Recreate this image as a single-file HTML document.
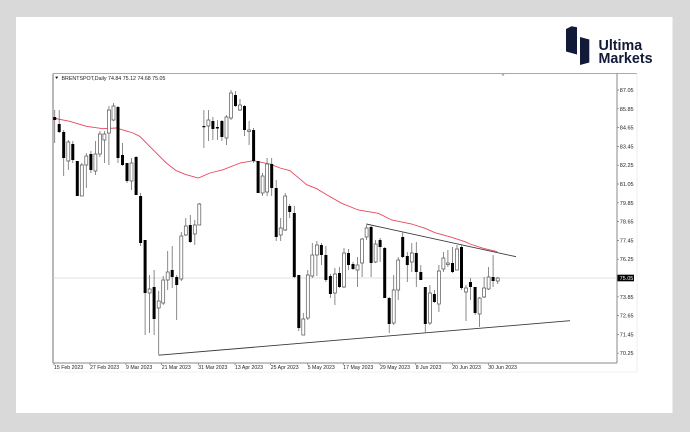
<!DOCTYPE html>
<html><head><meta charset="utf-8"><style>
html,body{margin:0;padding:0;background:#d9d9d9;}
svg{display:block;}
text{font-family:"Liberation Sans",sans-serif;}
</style></head><body>
<svg width="690" height="432" viewBox="0 0 690 432" xmlns="http://www.w3.org/2000/svg">
<rect x="0" y="0" width="690" height="432" fill="#d9d9d9"/>
<rect x="16" y="17" width="656.5" height="396" fill="#ffffff"/>
<!-- logo -->
<path d="M566 29 L571.5 26.3 L577 27.3 L577 54.5 L566 51.5 Z" fill="#111a38"/>
<path d="M580 37 L589.3 39.5 L589.3 62.5 L580 65 Z" fill="#111a38"/>
<text x="598.5" y="50" font-size="14.3" font-weight="bold" fill="#111a38">Ultima</text>
<text x="598.5" y="63" font-size="14.3" font-weight="bold" fill="#111a38">Markets</text>
<!-- chart frame -->
<line x1="53" y1="73.5" x2="637" y2="73.5" stroke="#a8a8a8" stroke-width="1"/>
<line x1="637" y1="73.5" x2="637" y2="372" stroke="#ececec" stroke-width="1"/>
<line x1="53" y1="372" x2="637" y2="372" stroke="#f0f0f0" stroke-width="1"/>
<line x1="53" y1="73.5" x2="53" y2="363" stroke="#9a9a9a" stroke-width="1.4"/>
<line x1="617" y1="73.5" x2="617" y2="363" stroke="#8a8a8a" stroke-width="1"/>
<line x1="53" y1="363" x2="617" y2="363" stroke="#8a8a8a" stroke-width="1"/>
<polygon points="501.5,74.3 504.5,74.3 503,76.3" fill="#999"/>
<!-- current price line -->
<line x1="53" y1="278" x2="617" y2="278" stroke="#d4d4d4" stroke-width="0.8"/>
<!-- header -->
<polygon points="55.2,76.6 58.2,76.6 56.7,79" fill="#111"/>
<text x="61.5" y="80" font-size="5.3" fill="#222">BRENTSPOT,Daily  74.84 75.12 74.68 75.05</text>
<!-- moving average -->
<polyline fill="none" stroke="#e8475e" stroke-width="0.9" points="53,118 69.7,121.3 86.3,126.3 103,128.7 116.3,128 133,133 139.7,136.3 153,149.7 166.3,163 176.3,170.7 186.3,174.7 198.3,178 210,173 223.3,169.7 240,163 253.3,160.7 270,164 280,168 290,170.7 296.7,176.3 306.7,184.7 316.7,188.7 326.7,194.7 341.7,203.3 358.3,210 378.3,213.3 391.7,220 411.7,224 425,228.3 435,232.7 451.7,237.3 465,241.7 470,244 483.3,248.3 497.3,251.7"/>
<!-- trendlines -->
<line x1="366.3" y1="224" x2="516" y2="256.7" stroke="#3a3a3a" stroke-width="0.9"/>
<line x1="158.7" y1="355.2" x2="570" y2="320.7" stroke="#3a3a3a" stroke-width="0.9"/>
<!-- wicks -->
<path fill="none" stroke="#6e6e6e" stroke-width="0.8" d="M54.7 110V143M59.2 110V133M63.7 130V176M68.3 140V170M72.8 141V163M77.3 161V196M81.8 163V196M86.3 153V188M90.9 151V173M95.4 141V175M99.9 131V157M104.4 131V163M108.9 106V165M113.5 103V121M118 106V163M122.5 143V166M127 163V183M131.5 158V190M136.1 156V195M140.6 193V246M145.1 240V335M149.6 275V333M154.1 270V335M158.7 291V355M163.2 276V305M167.7 251V290M172.2 246V288M176.7 275V320M181.3 232V281M185.8 218V236M190.3 215V243M194.8 220V245M199.3 203V225M203.9 110V148M208.4 110V141M212.9 117V140M217.4 120V140M221.9 120V141M226.5 115V145M231 90V120M235.5 91V107M240 99V111M244.5 105V136M249.1 121V145M253.6 128V163M258.1 161V193M262.6 173V196M267.1 158V196M271.7 158V196M276.2 180V241M280.7 218V241M285.2 193V231M289.7 204V218M294.3 206V278M298.8 275V331M303.3 313V335M307.8 270V320M312.3 243V278M316.9 241V276M321.4 243V265M325.9 246V282M330.4 274V298M334.9 268V305M339.5 267V288M344 248V288M348.5 249V270M353 262V270M357.5 257V287M362.1 238V277M366.6 225V240M371.1 226V277M375.6 240V263M380.1 238V262M384.7 247V298M389.2 297V333M393.7 275V325M398.2 257V300M402.7 232V258M407.3 252V282M411.8 243V272M416.3 242V287M420.8 265V280M425.3 287V333M429.9 285V325M434.4 290V303M438.9 265V312M443.4 252V272M447.9 250V267M452.5 247V273M457 245V270M461.5 245V290M466 285V321M470.5 278V300M475.1 287V315M479.6 297V327M484.1 277V298M488.6 267V290M493.1 255V287M497.7 277V284"/>
<!-- bear bodies -->
<path fill="#000" d="M53.2 117h3V120h-3zM57.7 124h3V132h-3zM62.2 132h3V158h-3zM71.3 144h3V160h-3zM75.8 161h3V196h-3zM89.4 154h3V170h-3zM116.5 107h3V158h-3zM121 155h3V165h-3zM125.5 163h3V181h-3zM134.6 157h3V195h-3zM139.1 196h3V243h-3zM143.6 240h3V293h-3zM152.6 287h3V319h-3zM170.7 270h3V277h-3zM175.2 277h3V285h-3zM188.8 225h3V242h-3zM202.4 126h3V127.2h-3zM211.4 121h3V129h-3zM215.9 127h3V128.5h-3zM220.4 121h3V137h-3zM234 95h3V106h-3zM243 106h3V130h-3zM252.1 130h3V161h-3zM256.6 161h3V193h-3zM270.2 164h3V188h-3zM274.7 188h3V237h-3zM288.2 206h3V212h-3zM292.8 213h3V277h-3zM297.3 275h3V328h-3zM319.9 245h3V255h-3zM324.4 255h3V280h-3zM328.9 276h3V294h-3zM338 273h3V287h-3zM347 253h3V265h-3zM351.5 264h3V269h-3zM369.6 227h3V263h-3zM378.6 240h3V247h-3zM383.2 248h3V298h-3zM387.7 298h3V324h-3zM401.2 237h3V257h-3zM405.8 256h3V265h-3zM414.8 253h3V272h-3zM419.3 272h3V280h-3zM423.8 287h3V324h-3zM432.9 294h3V302h-3zM451 263h3V272h-3zM460 247h3V288h-3zM469 282h3V287h-3zM473.6 287h3V313h-3zM491.6 277h3V281h-3z"/>
<!-- bull bodies -->
<path fill="#fff" stroke="#555" stroke-width="0.7" d="M66.8 142h3V161h-3zM80.3 165h3V196h-3zM84.8 156h3V165h-3zM93.9 154h3V171h-3zM98.4 134h3V154h-3zM102.9 134h3V140h-3zM107.4 110h3V133h-3zM112 106h3V120h-3zM130 163h3V181h-3zM148.1 289h3V293h-3zM157.2 301h3V308h-3zM161.7 280h3V303h-3zM166.2 272h3V280h-3zM179.8 236h3V279h-3zM184.3 226h3V235h-3zM193.3 225h3V234h-3zM197.8 204h3V225h-3zM206.9 120h3V126h-3zM225 117h3V138h-3zM229.5 93h3V118h-3zM238.5 105h3V110h-3zM247.6 130h3V131.5h-3zM261.1 176h3V193h-3zM265.6 164h3V192h-3zM279.2 228h3V235h-3zM283.7 196h3V230h-3zM301.8 319h3V335h-3zM306.3 275h3V318h-3zM310.8 255h3V276h-3zM315.4 245h3V255h-3zM333.4 274h3V293h-3zM342.5 253h3V287h-3zM356 265h3V270h-3zM360.6 239h3V263h-3zM365.1 228h3V237h-3zM374.1 244h3V262h-3zM392.2 290h3V323h-3zM396.7 260h3V290h-3zM410.3 253h3V262h-3zM428.4 293h3V323h-3zM437.4 271h3V304h-3zM441.9 258h3V269h-3zM446.4 263h3V264.5h-3zM455.5 249h3V270h-3zM464.5 288h3V292h-3zM478.1 298h3V314h-3zM482.6 288h3V297h-3zM487.1 277h3V289h-3zM496.2 278h3V281h-3z"/>
<!-- y axis ticks -->
<path stroke="#777" stroke-width="0.7" d="M617 90h2M617 108.8h2M617 127.6h2M617 146.4h2M617 165.2h2M617 184h2M617 202.8h2M617 221.6h2M617 240.4h2M617 259.2h2M617 278h2M617 296.8h2M617 315.6h2M617 334.4h2M617 353.2h2"/>
<g font-size="5.5" fill="#222">
<text x="619.8" y="92">87.05</text>
<text x="619.8" y="110.8">85.85</text>
<text x="619.8" y="129.6">84.65</text>
<text x="619.8" y="148.4">83.45</text>
<text x="619.8" y="167.2">82.25</text>
<text x="619.8" y="186">81.05</text>
<text x="619.8" y="204.8">79.85</text>
<text x="619.8" y="223.6">78.65</text>
<text x="619.8" y="242.4">77.45</text>
<text x="619.8" y="261.2">76.25</text>
<text x="619.8" y="298.8">73.85</text>
<text x="619.8" y="317.6">72.65</text>
<text x="619.8" y="336.4">71.45</text>
<text x="619.8" y="355.2">70.25</text>
</g>
<rect x="617.5" y="274.7" width="16.5" height="6.6" fill="#000"/>
<text x="619.6" y="280" font-size="5.5" fill="#fff">75.05</text>
<!-- x axis ticks & labels -->
<path stroke="#777" stroke-width="0.7" d="M54 363v2M90 363v2M126 363v2M161.7 363v2M198.3 363v2M235 363v2M270.7 363v2M307.7 363v2M343.3 363v2M380 363v2M415.7 363v2M452.3 363v2M488.3 363v2"/>
<g font-size="5.2" fill="#222">
<text x="54" y="368.8">15 Feb 2023</text>
<text x="90" y="368.8">27 Feb 2023</text>
<text x="126" y="368.8">9 Mar 2023</text>
<text x="161.7" y="368.8">21 Mar 2023</text>
<text x="198.3" y="368.8">31 Mar 2023</text>
<text x="235" y="368.8">13 Apr 2023</text>
<text x="270.7" y="368.8">25 Apr 2023</text>
<text x="307.7" y="368.8">5 May 2023</text>
<text x="343.3" y="368.8">17 May 2023</text>
<text x="380" y="368.8">29 May 2023</text>
<text x="415.7" y="368.8">8 Jun 2023</text>
<text x="452.3" y="368.8">20 Jun 2023</text>
<text x="488.3" y="368.8">30 Jun 2023</text>
</g>
</svg>
</body></html>
